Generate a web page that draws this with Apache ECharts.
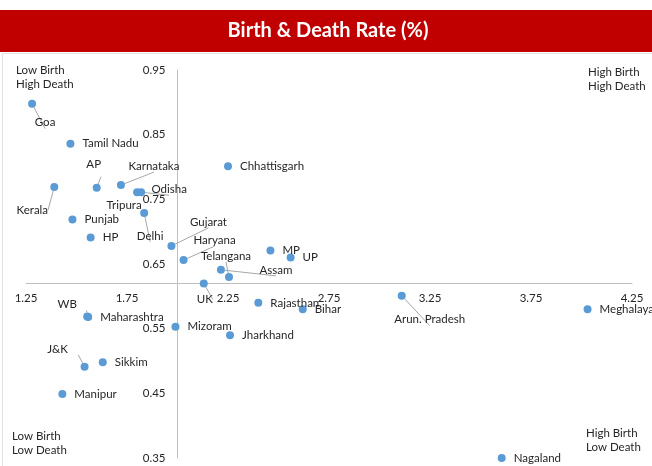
<!DOCTYPE html>
<html>
<head>
<meta charset="utf-8">
<script src="https://cdn.jsdelivr.net/npm/echarts@6/dist/echarts.min.js"></script>
<style>html,body{margin:0;padding:0;background:#fff}#c{width:652px;height:466px}</style>
</head>
<body>
<div id="c"></div>
<script>
// ---- data ----
const states = ['Goa','Tamil Nadu','Kerala','AP','Karnataka','Tripura','Odisha','Delhi','Punjab','HP','Gujarat','Chhattisgarh','Haryana','MP','UP','Assam','Telangana','UK','Rajasthan','Bihar','WB','Maharashtra','Mizoram','Jharkhand','J&K','Sikkim','Manipur','Arun. Pradesh','Meghalaya','Nagaland'];
const birthRate = [1.28,1.47,1.39,1.60,1.72,1.80,1.82,1.835,1.48,1.57,1.97,2.25,2.03,2.46,2.56,2.215,2.255,2.13,2.40,2.62,1.553,1.558,1.99,2.26,1.54,1.63,1.43,3.11,4.03,3.605];
const deathRate = [0.898,0.836,0.769,0.768,0.772,0.761,0.761,0.729,0.719,0.691,0.678,0.801,0.656,0.671,0.660,0.641,0.630,0.620,0.590,0.580,0.569,0.568,0.553,0.540,0.491,0.498,0.449,0.601,0.580,0.350];
const xTicks = [1.25,1.75,2.25,2.75,3.25,3.75,4.25];
const yTicks = [0.35,0.45,0.55,0.65,0.75,0.85,0.95];
const quadrantNotes = ['Low Birth\nHigh Death','High Birth\nHigh Death','Low Birth\nLow Death','High Birth\nLow Death'];
const titleText = 'Birth & Death Rate (%)';
const crossX = 2.0;   // vertical axis crosses here
const crossY = 0.62;  // horizontal axis crosses here

// ---- label placement (style only) ----
const displaced = {
  'Goa':[13,19,true],'AP':[-3,-23,true],'Kerala':[-22,23,true],'Karnataka':[33,-19,true],
  'Odisha':[28,-3,true],'Tripura':[-13,13,false],'Delhi':[6,23,true],'Gujarat':[37,-24,true],
  'Haryana':[31,-20,true],'Telangana':[-3,-21,true],'Assam':[55,0,true],'UK':[1,16,true],
  'WB':[-20,-12,true],'J&K':[-27,-18,true],'Arun. Pradesh':[28,24,true]
};

const FONT = 'Lato, "Open Sans", sans-serif';
const TXT = '#262626';
const chart = echarts.init(document.getElementById('c'), null, {renderer:'canvas'});

const data = states.map((n,i)=>{
  const d = displaced[n];
  const item = {name:n, value:[birthRate[i], deathRate[i]]};
  if (d) {
    item.label = {position:'inside', offset:[d[0], d[1]]};
    item.labelLine = {show:d[2]};
  }
  return item;
});

const gridBox = {left:26, right:20, top:70, bottom:8};
const plotH = 466 - gridBox.top - gridBox.bottom;
const plotW = 652 - gridBox.left - gridBox.right;
const yMin = yTicks[0], yMax = yTicks[yTicks.length-1];
const xMin = xTicks[0], xMax = xTicks[xTicks.length-1];
const xOff = -((crossY - yMin)/(yMax - yMin))*plotH;
const yOff = -((crossX - xMin)/(xMax - xMin))*plotW;

chart.setOption({
  animation:false,
  textStyle:{fontFamily:FONT},
  grid:gridBox,
  xAxis:{
    type:'value', min:xMin, max:xMax, interval:0.5, position:'bottom', offset:xOff,
    axisLine:{show:true, lineStyle:{color:'#bfbfbf', width:1}},
    axisTick:{show:false}, splitLine:{show:false},
    axisLabel:{color:TXT, fontFamily:FONT, fontSize:11.5, margin:9, formatter:v=>v.toFixed(2)}
  },
  yAxis:{
    type:'value', min:yMin, max:yMax, interval:0.1, position:'left', offset:yOff,
    axisLine:{show:true, lineStyle:{color:'#bfbfbf', width:1}},
    axisTick:{show:false}, splitLine:{show:false},
    axisLabel:{color:TXT, fontFamily:FONT, fontSize:11.5, margin:12, formatter:v=>v.toFixed(2)}
  },
  graphic:[
    {type:'polyline', silent:true, shape:{points:[[2.5,466],[2.5,53.5],[652,53.5]]}, style:{stroke:'#e3e3e3', fill:null, lineWidth:1}},
    {type:'rect', silent:true, shape:{x:0,y:10,width:652,height:42}, style:{fill:'#C00000'}},
    {type:'text', silent:true, style:{x:328, y:31, text:titleText, fill:'#fff', font:'bold 20px '+FONT, textAlign:'center', textVerticalAlign:'middle'}},
    {type:'text', silent:true, style:{x:16, y:63, text:quadrantNotes[0], fill:TXT, font:'11.5px '+FONT, lineHeight:14, textVerticalAlign:'top'}},
    {type:'text', silent:true, style:{x:588, y:65, text:quadrantNotes[1], fill:TXT, font:'11.5px '+FONT, lineHeight:14, textVerticalAlign:'top'}},
    {type:'text', silent:true, style:{x:12, y:429, text:quadrantNotes[2], fill:TXT, font:'11.5px '+FONT, lineHeight:14, textVerticalAlign:'top'}},
    {type:'text', silent:true, style:{x:586, y:426, text:quadrantNotes[3], fill:TXT, font:'11.5px '+FONT, lineHeight:14, textVerticalAlign:'top'}}
  ],
  series:[{
    type:'scatter',
    symbol:'circle', symbolSize:8,
    itemStyle:{color:'#5B9BD5', opacity:1},
    label:{show:true, position:'right', distance:8, formatter:'{b}', color:TXT, fontFamily:FONT, fontSize:11.5},
    labelLine:{show:false, lineStyle:{color:'#a6a6a6', width:1}},
    data:data
  }]
});
</script>
</body>
</html>
